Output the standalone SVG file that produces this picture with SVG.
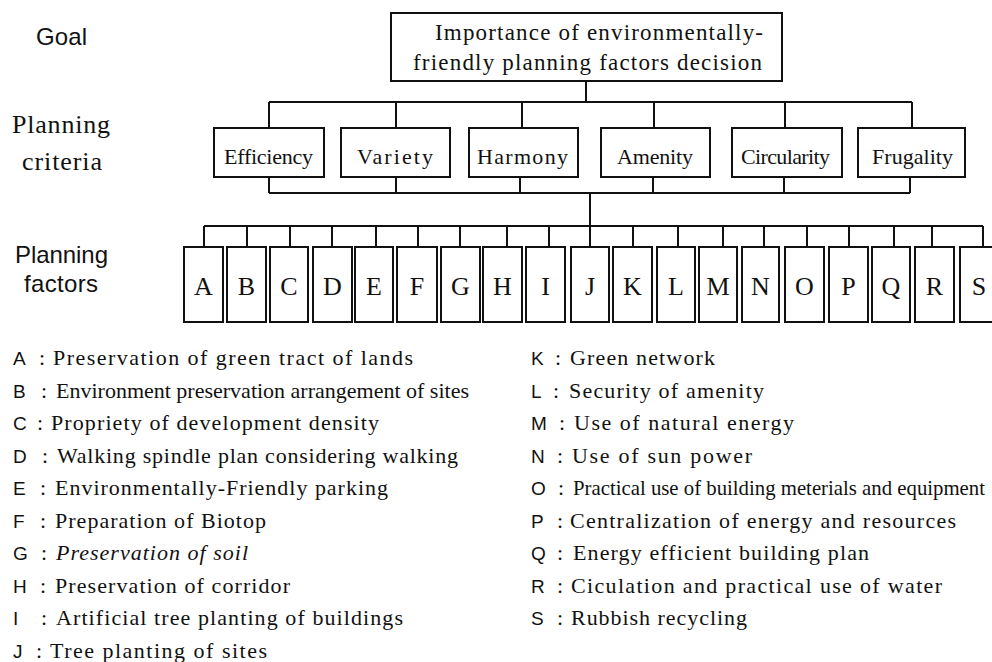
<svg xmlns="http://www.w3.org/2000/svg" width="992" height="662" viewBox="0 0 992 662">
  <style>
    .box { fill: #fff; stroke: #111; stroke-width: 2; }
    .wire { fill: none; stroke: #111; stroke-width: 2; }
    .serif { font-family: "Liberation Serif", "DejaVu Serif", serif; fill: #111; }
    .sans { font-family: "Liberation Sans", Arial, sans-serif; fill: #111; }
    .goal { font-size: 23px; }
    .crit { font-size: 22px; }
    .fac { font-size: 26px; }
    .side { font-size: 24px; }
    .side-serif { font-size: 26px; }
    .leg { font-size: 22px; }
    .key { font-size: 19px; }
  </style>
  <rect width="992" height="662" fill="#fff"/>

  <!-- level captions -->
  <g id="captions">
    <text class="sans side" x="36" y="45" textLength="51">Goal</text>
    <text class="serif side-serif" x="12" y="133" textLength="98">Planning</text>
    <text class="serif side-serif" x="22" y="170" textLength="80">criteria</text>
    <text class="sans side" x="15" y="263" textLength="93">Planning</text>
    <text class="sans side" x="24" y="292" textLength="74">factors</text>
  </g>

  <!-- connectors -->
  <g id="connectors" class="wire">
    <path d="M586 81V102M269 102H912M269 102V128M396 102V128M522 102V128M654 102V128M785 102V128M912 102V128"/>
    <path d="M269 177V193M396 177V193M520 177V193M653 177V193M784 177V193M910 177V193M269 193H910M590 193V226"/>
    <path d="M204 226H983M204 226V247M247 226V247M290 226V247M332 226V247M376 226V247M418 226V247M460 226V247M507 226V247M549 226V247M590 226V247M633 226V247M678 226V247M723 226V247M764 226V247M807 226V247M849 226V247M894 226V247M932 226V247M983 226V247"/>
  </g>

  <!-- goal -->
  <g id="goal">
    <rect class="box" x="391" y="13" width="391" height="68"/>
    <text class="serif goal" x="435" y="40" textLength="328">Importance of environmentally-</text>
    <text class="serif goal" x="413" y="70" textLength="349">friendly planning factors decision</text>
  </g>

  <!-- planning criteria -->
  <g id="crit-efficiency">
    <rect class="box" x="214" y="128" width="110" height="49"/>
    <text class="serif crit" x="224" y="164" textLength="89">Efficiency</text>
  </g>
  <g id="crit-variety">
    <rect class="box" x="341" y="128" width="109" height="49"/>
    <text class="serif crit" x="357" y="164" textLength="76">Variety</text>
  </g>
  <g id="crit-harmony">
    <rect class="box" x="469" y="128" width="109" height="49"/>
    <text class="serif crit" x="477" y="164" textLength="91">Harmony</text>
  </g>
  <g id="crit-amenity">
    <rect class="box" x="601" y="128" width="109" height="49"/>
    <text class="serif crit" x="617" y="164" textLength="76">Amenity</text>
  </g>
  <g id="crit-circularity">
    <rect class="box" x="732" y="128" width="110" height="49"/>
    <text class="serif crit" x="741" y="164" textLength="89">Circularity</text>
  </g>
  <g id="crit-frugality">
    <rect class="box" x="858" y="128" width="107" height="49"/>
    <text class="serif crit" x="872" y="164" textLength="81">Frugality</text>
  </g>

  <!-- planning factors -->
  <g text-anchor="middle">
    <g id="f-A"><rect class="box" x="184" y="247" width="39" height="75"/><text class="serif fac" x="203.5" y="295">A</text></g>
    <g id="f-B"><rect class="box" x="227" y="247" width="39" height="75"/><text class="serif fac" x="246.5" y="295">B</text></g>
    <g id="f-C"><rect class="box" x="270" y="247" width="38" height="75"/><text class="serif fac" x="289" y="295">C</text></g>
    <g id="f-D"><rect class="box" x="313" y="247" width="39" height="75"/><text class="serif fac" x="332.5" y="295">D</text></g>
    <g id="f-E"><rect class="box" x="355" y="247" width="38" height="75"/><text class="serif fac" x="374" y="295">E</text></g>
    <g id="f-F"><rect class="box" x="397" y="247" width="40" height="75"/><text class="serif fac" x="417" y="295">F</text></g>
    <g id="f-G"><rect class="box" x="441" y="247" width="39" height="75"/><text class="serif fac" x="460.5" y="295">G</text></g>
    <g id="f-H"><rect class="box" x="483" y="247" width="39" height="75"/><text class="serif fac" x="502.5" y="295">H</text></g>
    <g id="f-I"><rect class="box" x="526" y="247" width="39" height="75"/><text class="serif fac" x="545.5" y="295">I</text></g>
    <g id="f-J"><rect class="box" x="571" y="247" width="38" height="75"/><text class="serif fac" x="590" y="295">J</text></g>
    <g id="f-K"><rect class="box" x="613" y="247" width="39" height="75"/><text class="serif fac" x="632.5" y="295">K</text></g>
    <g id="f-L"><rect class="box" x="657" y="247" width="38" height="75"/><text class="serif fac" x="676" y="295">L</text></g>
    <g id="f-M"><rect class="box" x="699" y="247" width="38" height="75"/><text class="serif fac" x="718" y="295">M</text></g>
    <g id="f-N"><rect class="box" x="742" y="247" width="37" height="75"/><text class="serif fac" x="760.5" y="295">N</text></g>
    <g id="f-O"><rect class="box" x="785" y="247" width="39" height="75"/><text class="serif fac" x="804.5" y="295">O</text></g>
    <g id="f-P"><rect class="box" x="829" y="247" width="39" height="75"/><text class="serif fac" x="848.5" y="295">P</text></g>
    <g id="f-Q"><rect class="box" x="872" y="247" width="38" height="75"/><text class="serif fac" x="891" y="295">Q</text></g>
    <g id="f-R"><rect class="box" x="915" y="247" width="39" height="75"/><text class="serif fac" x="934.5" y="295">R</text></g>
    <g id="f-S"><rect class="box" x="960" y="247" width="40" height="75"/><text class="serif fac" x="979" y="295">S</text></g>
  </g>

  <!-- legend, left column -->
  <g id="legend-left">
    <text class="sans key" x="13" y="365">A</text><text class="serif leg" x="39" y="365">:</text>
    <text class="serif leg" x="53" y="365" textLength="360">Preservation of green tract of lands</text>
    <text class="sans key" x="13" y="397.5">B</text><text class="serif leg" x="41" y="397.5">:</text>
    <text class="serif leg" x="56" y="397.5" textLength="413" lengthAdjust="spacingAndGlyphs">Environment preservation arrangement of sites</text>
    <text class="sans key" x="13" y="430">C</text><text class="serif leg" x="37" y="430">:</text>
    <text class="serif leg" x="51" y="430" textLength="328">Propriety of development density</text>
    <text class="sans key" x="13" y="462.5">D</text><text class="serif leg" x="42" y="462.5">:</text>
    <text class="serif leg" x="57" y="462.5" textLength="401">Walking spindle plan considering walking</text>
    <text class="sans key" x="13" y="495">E</text><text class="serif leg" x="40" y="495">:</text>
    <text class="serif leg" x="55" y="495" textLength="333">Environmentally-Friendly parking</text>
    <text class="sans key" x="13" y="527.5">F</text><text class="serif leg" x="40" y="527.5">:</text>
    <text class="serif leg" x="55" y="527.5" textLength="211">Preparation of Biotop</text>
    <text class="sans key" x="13" y="560">G</text><text class="serif leg" x="41" y="560">:</text>
    <text class="serif leg" x="56" y="560" textLength="192" font-style="italic">Preservation of soil</text>
    <text class="sans key" x="13" y="592.5">H</text><text class="serif leg" x="40" y="592.5">:</text>
    <text class="serif leg" x="55" y="592.5" textLength="235">Preservation of corridor</text>
    <text class="sans key" x="13" y="625">I</text><text class="serif leg" x="41" y="625">:</text>
    <text class="serif leg" x="56" y="625" textLength="347">Artificial tree planting of buildings</text>
    <text class="sans key" x="13" y="657.5">J</text><text class="serif leg" x="36" y="657.5">:</text>
    <text class="serif leg" x="50" y="657.5" textLength="217">Tree planting of sites</text>
  </g>

  <!-- legend, right column -->
  <g id="legend-right">
    <text class="sans key" x="531" y="365">K</text><text class="serif leg" x="555" y="365">:</text>
    <text class="serif leg" x="570" y="365" textLength="145">Green network</text>
    <text class="sans key" x="531" y="397.5">L</text><text class="serif leg" x="553" y="397.5">:</text>
    <text class="serif leg" x="569" y="397.5" textLength="195">Security of amenity</text>
    <text class="sans key" x="531" y="430">M</text><text class="serif leg" x="559" y="430">:</text>
    <text class="serif leg" x="574" y="430" textLength="220">Use of natural energy</text>
    <text class="sans key" x="531" y="462.5">N</text><text class="serif leg" x="557" y="462.5">:</text>
    <text class="serif leg" x="572" y="462.5" textLength="180">Use of sun power</text>
    <text class="sans key" x="531" y="495">O</text><text class="serif leg" x="558" y="495">:</text>
    <text class="serif leg" x="573" y="495" textLength="412" lengthAdjust="spacingAndGlyphs">Practical use of building meterials and equipment</text>
    <text class="sans key" x="531" y="527.5">P</text><text class="serif leg" x="557" y="527.5">:</text>
    <text class="serif leg" x="570" y="527.5" textLength="386">Centralization of energy and resources</text>
    <text class="sans key" x="531" y="560">Q</text><text class="serif leg" x="557" y="560">:</text>
    <text class="serif leg" x="573" y="560" textLength="296">Energy efficient building plan</text>
    <text class="sans key" x="531" y="592.5">R</text><text class="serif leg" x="557" y="592.5">:</text>
    <text class="serif leg" x="571" y="592.5" textLength="371">Ciculation and practical use of water</text>
    <text class="sans key" x="531" y="625">S</text><text class="serif leg" x="557" y="625">:</text>
    <text class="serif leg" x="571" y="625" textLength="176">Rubbish recycling</text>
  </g>
</svg>
